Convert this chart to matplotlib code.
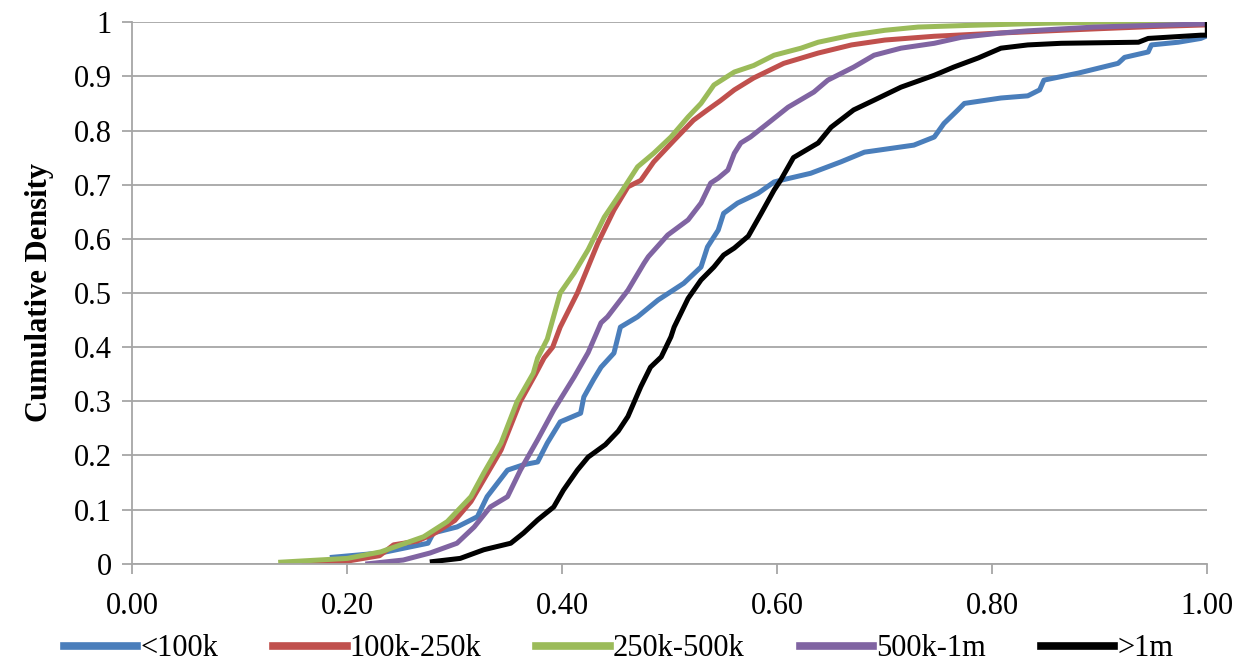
import matplotlib.pyplot as plt
from matplotlib.ticker import FuncFormatter, MultipleLocator

plt.rcParams['font.family'] = ['Liberation Serif', 'DejaVu Serif']

labels = ['<100k', '100k-250k', '250k-500k', '500k-1m', '>1m']
colors = ['#4A7EBB', '#C0504D', '#9BBB59', '#8064A2', '#000000']

x_lt100k = [0.186, 0.231, 0.275, 0.28, 0.302, 0.321, 0.330, 0.349, 0.364, 0.377, 0.386, 0.398,
            0.417, 0.42, 0.429, 0.436, 0.448, 0.454, 0.470, 0.489, 0.513, 0.529, 0.535, 0.545,
            0.550, 0.563, 0.582, 0.597, 0.603, 0.631, 0.659, 0.681, 0.727, 0.746, 0.755, 0.768,
            0.774, 0.808, 0.833, 0.844, 0.848, 0.880, 0.917, 0.923, 0.945, 0.948, 0.973, 0.994, 1.0]
y_lt100k = [0.012, 0.02, 0.038, 0.057, 0.068, 0.087, 0.124, 0.173, 0.183, 0.188, 0.223, 0.262,
            0.278, 0.308, 0.34, 0.363, 0.389, 0.437, 0.456, 0.487, 0.518, 0.548, 0.585, 0.616,
            0.647, 0.666, 0.684, 0.705, 0.708, 0.721, 0.742, 0.76, 0.773, 0.788, 0.813, 0.838,
            0.85, 0.86, 0.864, 0.875, 0.893, 0.906, 0.924, 0.935, 0.945, 0.958, 0.963, 0.97, 0.975]

x_100_250k = [0.16, 0.20, 0.23, 0.243, 0.265, 0.28, 0.30, 0.315, 0.343, 0.361, 0.375, 0.383, 0.391,
              0.398, 0.414, 0.433, 0.448, 0.461, 0.473, 0.485, 0.504, 0.522, 0.535, 0.547, 0.560,
              0.578, 0.606, 0.638, 0.669, 0.70, 0.746, 0.808, 0.864, 0.90, 0.95, 1.0]
y_100_250k = [0.0, 0.005, 0.015, 0.035, 0.042, 0.055, 0.08, 0.115, 0.21, 0.30, 0.35, 0.38, 0.40,
              0.437, 0.50, 0.592, 0.653, 0.696, 0.708, 0.742, 0.782, 0.819, 0.838, 0.855, 0.875,
              0.897, 0.924, 0.943, 0.958, 0.967, 0.974, 0.98, 0.985, 0.988, 0.992, 0.995]

x_250_500k = [0.138, 0.2, 0.231, 0.271, 0.293, 0.315, 0.327, 0.343, 0.358, 0.373, 0.377, 0.386,
              0.398, 0.411, 0.424, 0.439, 0.454, 0.470, 0.485, 0.501, 0.517, 0.529, 0.541, 0.560,
              0.578, 0.597, 0.622, 0.638, 0.669, 0.70, 0.731, 0.777, 0.85, 0.90, 1.0]
y_250_500k = [0.003, 0.01, 0.022, 0.05, 0.078, 0.124, 0.168, 0.223, 0.30, 0.352, 0.38, 0.415,
              0.50, 0.537, 0.58, 0.64, 0.684, 0.733, 0.758, 0.788, 0.825, 0.85, 0.884, 0.908,
              0.92, 0.939, 0.952, 0.963, 0.976, 0.985, 0.991, 0.994, 0.998, 1.0, 1.0]

x_500k_1m = [0.219, 0.252, 0.277, 0.302, 0.318, 0.333, 0.349, 0.361, 0.377, 0.392, 0.411, 0.424,
             0.436, 0.442, 0.454, 0.461, 0.476, 0.480, 0.498, 0.517, 0.529, 0.538, 0.545, 0.554,
             0.560, 0.566, 0.575, 0.591, 0.610, 0.634, 0.647, 0.671, 0.690, 0.715, 0.746, 0.771,
             0.808, 0.833, 0.895, 1.0]
y_500k_1m = [0.0, 0.007, 0.02, 0.038, 0.068, 0.105, 0.124, 0.173, 0.229, 0.284, 0.345, 0.39,
             0.445, 0.456, 0.487, 0.505, 0.555, 0.567, 0.607, 0.635, 0.666, 0.703, 0.712, 0.727,
             0.758, 0.777, 0.788, 0.813, 0.843, 0.871, 0.893, 0.917, 0.939, 0.952, 0.961, 0.972,
             0.98, 0.984, 0.991, 0.997]

x_gt1m = [0.279, 0.305, 0.327, 0.352, 0.364, 0.377, 0.392, 0.401, 0.414, 0.424, 0.44, 0.452,
          0.461, 0.473, 0.482, 0.492, 0.501, 0.504, 0.517, 0.529, 0.541, 0.550, 0.560, 0.573,
          0.585, 0.597, 0.603, 0.615, 0.638, 0.650, 0.671, 0.690, 0.715, 0.746, 0.764, 0.787,
          0.808, 0.833, 0.864, 0.936, 0.945, 0.994, 1.0, 1.0]
y_gt1m = [0.004, 0.01, 0.026, 0.038, 0.057, 0.081, 0.105, 0.136, 0.173, 0.197, 0.22, 0.245,
          0.272, 0.327, 0.363, 0.382, 0.419, 0.437, 0.49, 0.524, 0.548, 0.57, 0.583, 0.605,
          0.647, 0.69, 0.708, 0.75, 0.777, 0.806, 0.838, 0.856, 0.88, 0.902, 0.917, 0.934,
          0.952, 0.958, 0.961, 0.963, 0.97, 0.976, 0.976, 1.0]

series = [(x_lt100k, y_lt100k), (x_100_250k, y_100_250k), (x_250_500k, y_250_500k),
          (x_500k_1m, y_500k_1m), (x_gt1m, y_gt1m)]

fig = plt.figure(figsize=(12.37, 6.72), dpi=100)
ax = fig.add_axes([0.107, 0.161, 0.869, 0.806])

grey = '#a6a6a6'
for (xs, ys), lab, col in zip(series, labels, colors):
    ax.plot(xs, ys, color=col, lw=3.6, label=lab, solid_joinstyle='round')

ax.set_xlim(0, 1)
ax.set_ylim(0, 1)
ax.xaxis.set_major_locator(MultipleLocator(0.2))
ax.yaxis.set_major_locator(MultipleLocator(0.1))
ax.xaxis.set_major_formatter(FuncFormatter(lambda v, p: '{:.2f}'.format(v)))
ax.yaxis.set_major_formatter(FuncFormatter(lambda v, p: '{:g}'.format(round(v, 1))))
ax.grid(axis='y', color=grey, lw=1.3)
ax.set_axisbelow(True)
for s in ['top', 'right']:
    ax.spines[s].set_visible(False)
for s in ['left', 'bottom']:
    ax.spines[s].set_color(grey)
    ax.spines[s].set_linewidth(1.3)
ax.tick_params(axis='both', direction='out', length=7, width=1.3, color=grey,
               labelsize=22, pad=8)
ax.tick_params(axis='x', pad=13)
ax.set_ylabel('Cumulative Density', fontsize=22, fontweight='bold', labelpad=14)

# legend sits right at the bottom edge, like the source
leg = fig.legend(loc='lower center', bbox_to_anchor=(0.5, -0.028), ncol=5, frameon=False,
                 fontsize=22, handlelength=2.4, columnspacing=1.8, handletextpad=0.1)
for h in leg.legend_handles:
    h.set_linewidth(5.5)

fig.savefig('out.png', dpi=100)
